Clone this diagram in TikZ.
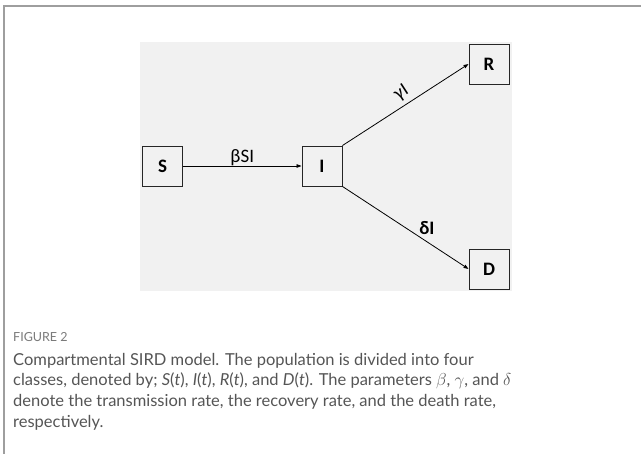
\documentclass[tikz,border=0pt]{standalone}
\usepackage{fontspec}
\usepackage{xcolor}
\usepackage{tikz}
\usetikzlibrary{arrows.meta}
\setmainfont{Lato}
\newfontfamily\diagfont{Carlito}
\definecolor{bgfill}{HTML}{F1F1F1}
\definecolor{framegray}{HTML}{9E9E9E}
\definecolor{figgray}{HTML}{7A7A7A}
\definecolor{captext}{HTML}{555555}

\begin{document}
\begin{tikzpicture}[x=1pt,y=1pt]
\tikzstyle{every node}+=[inner sep=0pt]
\tikzstyle{compartment}=[draw=black!85, line width=0.9pt, minimum size=40pt, font=\diagfont\bfseries\fontsize{19}{19}\selectfont]
\tikzstyle{flow}=[draw=black, line width=0.8pt, -{Triangle[length=5pt,width=3.5pt]}]
\tikzstyle{rate}=[font=\diagfont\fontsize{19}{19}\selectfont]
\useasboundingbox (0,0) rectangle (641,-454);
\draw [framegray, line width=1.1pt] (4,-454) -- (4,-6) -- (641,-6);
\fill [bgfill] (140,-42) rectangle (512,-291);
% compartments
\node [compartment] (S) at (162.5,-166) {S};
\node [compartment] (I) at (322,-166) {I};
\node [compartment] (R) at (489,-64) {R};
\node [compartment] (D) at (489,-269) {D};
% flows
\draw [flow] (S) -- (I) node [rate, midway, anchor=base, yshift=3pt] {βSI};
\draw [flow] (I.north east) -- (R.west) node [rate, pos=0.52, sloped, above=4pt] {γI};
\draw [flow] (I.south east) -- (D.west) node [rate, pos=0.67, above=7pt, font=\diagfont\bfseries\fontsize{19}{19}\selectfont] {δI};
% caption
\node [anchor=base west, text=figgray, font=\fontsize{12.5}{15}\selectfont] (figlabel) at (13,-342) {FIGURE 2};
\node [anchor=north west, align=left, text=captext, font=\fontsize{16.5}{20.6}\selectfont] (caption) at (13,-353) {Compartmental SIRD model. The population is divided into four\\
classes, denoted by; \textit{S}(\textit{t}), \textit{I}(\textit{t}), \textit{R}(\textit{t}), and \textit{D}(\textit{t}). The parameters $\beta$, $\gamma$, and $\delta$\\
denote the transmission rate, the recovery rate, and the death rate,\\
respectively.};
\end{tikzpicture}
\end{document}
